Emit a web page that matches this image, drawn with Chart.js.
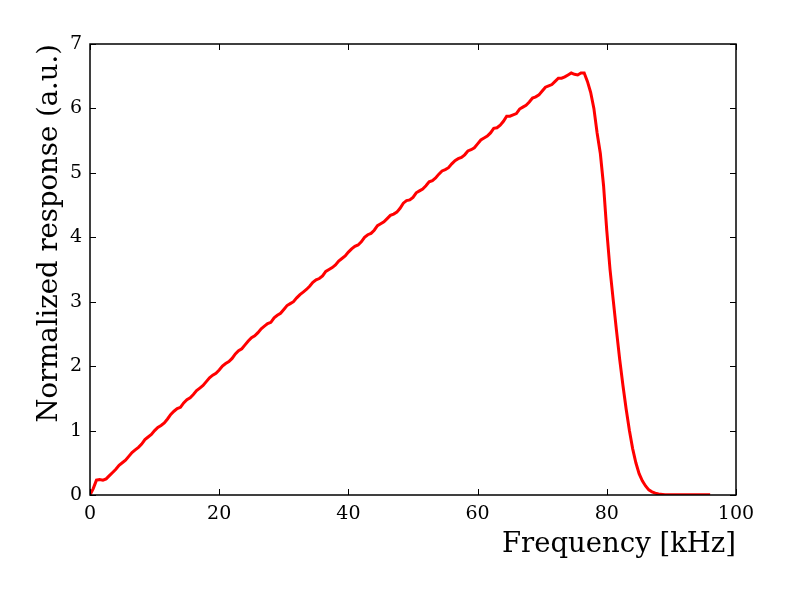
<!DOCTYPE html>
<html>
<head>
<meta charset="utf-8">
<script src="https://cdn.jsdelivr.net/npm/chart.js@4.4.1/dist/chart.umd.min.js"></script>
<style>
  html, body { margin: 0; padding: 0; background: #fff; }
  #wrap { width: 789px; height: 592px; }
</style>
</head>
<body>
<div id="wrap"><canvas id="responseChart"></canvas></div>
<script>
// Frequency points (kHz) and normalized response
const freqKHz = [
  0, 0.5, 1, 1.5, 2, 2.5, 3, 3.5, 4, 4.5, 5, 5.5, 6, 6.5, 7, 7.5, 8, 8.5, 9, 9.5,
  10, 10.5, 11, 11.5, 12, 12.5, 13, 13.5, 14, 14.5, 15, 15.5, 16, 16.5, 17, 17.5, 18, 18.5, 19, 19.5,
  20, 20.5, 21, 21.5, 22, 22.5, 23, 23.5, 24, 24.5, 25, 25.5, 26, 26.5, 27, 27.5, 28, 28.5, 29, 29.5,
  30, 30.5, 31, 31.5, 32, 32.5, 33, 33.5, 34, 34.5, 35, 35.5, 36, 36.5, 37, 37.5, 38, 38.5, 39, 39.5,
  40, 40.5, 41, 41.5, 42, 42.5, 43, 43.5, 44, 44.5, 45, 45.5, 46, 46.5, 47, 47.5, 48, 48.5, 49, 49.5,
  50, 50.5, 51, 51.5, 52, 52.5, 53, 53.5, 54, 54.5, 55, 55.5, 56, 56.5, 57, 57.5, 58, 58.5, 59, 59.5,
  60, 60.5, 61, 61.5, 62, 62.5, 63, 63.5, 64, 64.5, 65, 65.5, 66, 66.5, 67, 67.5, 68, 68.5, 69, 69.5,
  70, 70.5, 71, 71.5, 72, 72.5, 73, 73.5, 74, 74.5, 75, 75.5, 76, 76.5, 77, 77.5,
  78, 78.5, 79, 79.5, 80, 80.5, 81, 81.5, 82, 82.5,
  83, 83.5, 84, 84.5, 85, 85.5, 86, 86.5, 87, 87.5,
  88, 89, 90, 92, 94, 96
];
const response = [
  0, 0.10, 0.23, 0.24, 0.23, 0.25, 0.30, 0.35, 0.40, 0.46, 0.50, 0.54, 0.60, 0.66, 0.70, 0.74, 0.79, 0.86, 0.90, 0.94,
  1.00, 1.05, 1.08, 1.12, 1.18, 1.25, 1.30, 1.34, 1.36, 1.43, 1.48, 1.51, 1.56, 1.62, 1.66, 1.70, 1.76, 1.82, 1.86, 1.89,
  1.94, 2.00, 2.04, 2.07, 2.12, 2.19, 2.24, 2.27, 2.33, 2.39, 2.44, 2.47, 2.52, 2.58, 2.62, 2.66, 2.68, 2.75, 2.79, 2.82,
  2.88, 2.94, 2.97, 3.00, 3.06, 3.11, 3.15, 3.19, 3.24, 3.30, 3.34, 3.36, 3.40, 3.47, 3.50, 3.53, 3.57, 3.63, 3.67, 3.71,
  3.77, 3.82, 3.86, 3.88, 3.93, 4.00, 4.04, 4.06, 4.11, 4.18, 4.21, 4.24, 4.29, 4.34, 4.36, 4.39, 4.45, 4.53, 4.57, 4.58,
  4.62, 4.69, 4.72, 4.75, 4.80, 4.86, 4.88, 4.92, 4.98, 5.03, 5.05, 5.08, 5.14, 5.19, 5.22, 5.24, 5.28, 5.34, 5.36, 5.39,
  5.45, 5.51, 5.54, 5.57, 5.62, 5.69, 5.70, 5.74, 5.80, 5.88, 5.88, 5.90, 5.92, 5.99, 6.02, 6.05, 6.10, 6.16, 6.18, 6.21,
  6.27, 6.33, 6.35, 6.37, 6.42, 6.47, 6.47, 6.49, 6.52, 6.55, 6.53, 6.52, 6.55, 6.55, 6.42, 6.25,
  6.00, 5.62, 5.30, 4.80, 4.10, 3.50, 3.02, 2.55, 2.10, 1.70,
  1.33, 1.00, 0.72, 0.50, 0.33, 0.22, 0.14, 0.08, 0.05, 0.03,
  0.015, 0.005, 0.003, 0.002, 0.002, 0.002
];
const xTicks = [0, 20, 40, 60, 80, 100];
const yTicks = [0, 1, 2, 3, 4, 5, 6, 7];

const points = freqKHz.map((f, i) => ({ x: f, y: response[i] }));

// Box around the plot with inward ticks on all four sides
const framePlugin = {
  id: "frame",
  afterDraw(chart) {
    const { ctx, chartArea: a, scales } = chart;
    ctx.save();
    ctx.strokeStyle = "#000";
    ctx.lineWidth = 1;
    xTicks.forEach((t) => {
      const px = Math.round(scales.x.getPixelForValue(t)) + 0.5;
      ctx.beginPath();
      ctx.moveTo(px, a.bottom);
      ctx.lineTo(px, a.bottom - 6);
      ctx.moveTo(px, a.top);
      ctx.lineTo(px, a.top + 6);
      ctx.stroke();
    });
    yTicks.forEach((t) => {
      const py = Math.round(scales.y.getPixelForValue(t)) + 0.5;
      ctx.beginPath();
      ctx.moveTo(a.left, py);
      ctx.lineTo(a.left + 6, py);
      ctx.moveTo(a.right, py);
      ctx.lineTo(a.right - 6, py);
      ctx.stroke();
    });
    ctx.lineWidth = 1.5;
    ctx.strokeRect(a.left, a.top, a.right - a.left, a.bottom - a.top);
    ctx.restore();
  },
};

const ctx = document.getElementById("responseChart").getContext("2d");
Chart.defaults.font.family = "'DejaVu Serif', serif";
Chart.defaults.color = "#000";

new Chart(ctx, {
  type: "line",
  data: {
    datasets: [
      {
        data: points,
        borderColor: "#ff0000",
        borderWidth: 3,
        pointRadius: 0,
        tension: 0,
        fill: false,
      },
    ],
  },
  options: {
    responsive: true,
    maintainAspectRatio: false,
    animation: false,
    layout: { padding: { top: 44, right: 53, left: 0, bottom: 0 } },
    plugins: {
      legend: { display: false },
      tooltip: { enabled: false },
    },
    scales: {
      x: {
        type: "linear",
        min: 0,
        max: 100,
        afterFit: (s) => { s.height = 97; },
        afterBuildTicks: (s) => { s.ticks = xTicks.map((v) => ({ value: v })); },
        grid: { display: false, drawTicks: false },
        border: { display: false },
        ticks: { padding: 8, font: { size: 19 }, maxRotation: 0 },
        title: {
          display: true,
          text: "Frequency [kHz]",
          align: "end",
          font: { size: 27.5 },
          padding: { top: 0, bottom: 31 },
        },
      },
      y: {
        min: 0,
        max: 7,
        afterFit: (s) => { s.width = 90; },
        afterBuildTicks: (s) => { s.ticks = yTicks.map((v) => ({ value: v })); },
        grid: { display: false, drawTicks: false },
        border: { display: false },
        ticks: { padding: 8, font: { size: 19 } },
        title: {
          display: true,
          text: "Normalized response (a.u.)",
          align: "end",
          font: { size: 27.5 },
          padding: { top: 33, bottom: 0 },
        },
      },
    },
  },
  plugins: [framePlugin],
});
</script>
</body>
</html>
